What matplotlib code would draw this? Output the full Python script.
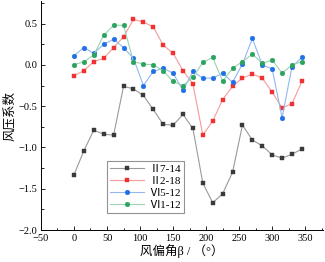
import matplotlib
matplotlib.use("Agg")
import matplotlib.pyplot as plt
from matplotlib.ticker import MultipleLocator

angles = list(range(0, 360, 15))
s_ii714 = [-1.33, -1.04, -0.79, -0.84, -0.85, -0.26, -0.29, -0.37, -0.54, -0.72, -0.73, -0.60,
           -0.77, -1.43, -1.67, -1.56, -1.30, -0.73, -0.91, -0.98, -1.09, -1.13, -1.08, -1.02]
s_ii218 = [-0.13, -0.07, 0.04, 0.08, 0.21, 0.34, 0.55, 0.52, 0.46, 0.24, 0.14, -0.07,
           -0.23, -0.85, -0.68, -0.42, -0.26, -0.16, -0.11, -0.16, -0.33, -0.52, -0.47, -0.20]
s_vi512 = [0.11, 0.21, 0.14, 0.25, 0.31, 0.21, 0.08, -0.25, -0.08, -0.04, -0.10, -0.31,
           -0.08, -0.16, -0.16, -0.10, -0.21, 0.01, 0.32, 0.00, -0.05, -0.64, -0.02, 0.09]
s_vi112 = [0.00, 0.04, 0.12, 0.36, 0.48, 0.48, 0.04, 0.01, 0.00, -0.07, -0.20, -0.25,
           -0.15, 0.03, 0.09, -0.20, -0.04, 0.04, 0.13, 0.02, 0.06, -0.10, 0.00, 0.04]
labels = ["Ⅱ7-14", "Ⅱ2-18", "Ⅵ5-12", "Ⅵ1-12"]

fam = ["Liberation Serif", "Noto Sans CJK SC", "DejaVu Serif"]
plt.rcParams['font.family'] = fam

fig = plt.figure(figsize=(3.25, 2.62), dpi=100)
ax = fig.add_axes([0.126, 0.122, 0.868, 0.873])

series = [s_ii714, s_ii218, s_vi512, s_vi112]
mcolors = ["#3a3a3a", "#f03232", "#1f6fe6", "#2aa35f"]
lcolors = ["#9a9a9a", "#f79a9a", "#93b8f0", "#99d4b0"]
markers = ["s", "s", "o", "o"]
for s, mc, lc, m, lab in zip(series, mcolors, lcolors, markers, labels):
    ax.plot(angles, s, color=lc, lw=0.8, marker=m, ms=3.4, mfc=mc, mec=mc, mew=0.3, label=lab)
ax.set_xlim(-50, 377)
ax.set_ylim(-2.0, 0.77)
ax.xaxis.set_major_locator(MultipleLocator(50))
ax.xaxis.set_minor_locator(MultipleLocator(25))
ax.yaxis.set_major_locator(MultipleLocator(0.5))
ax.yaxis.set_minor_locator(MultipleLocator(0.25))
ax.yaxis.set_major_formatter(plt.FuncFormatter(lambda v, p: f"{v:.1f}".replace("-", "−")))
ax.tick_params(which='major', direction='in', length=3, width=0.6, labelsize=7.5, pad=2.5)
ax.tick_params(which='minor', direction='in', length=1.8, width=0.6)
for sp in ['top', 'right']:
    ax.spines[sp].set_visible(False)
for sp in ['left', 'bottom']:
    ax.spines[sp].set_linewidth(0.7)
ax.set_xlabel("风偏角β / （°）", fontsize=9, labelpad=1)
ax.set_ylabel("风压系数", fontsize=9, labelpad=2)
leg = ax.legend(loc='lower left', bbox_to_anchor=(0.234, 0.074), fontsize=8, frameon=True,
                fancybox=False, edgecolor='#777777', handlelength=3.0, borderpad=0.3,
                labelspacing=0.2, handletextpad=0.5, borderaxespad=0)
leg.get_frame().set_linewidth(0.8)
fig.savefig("out.png", dpi=100)
